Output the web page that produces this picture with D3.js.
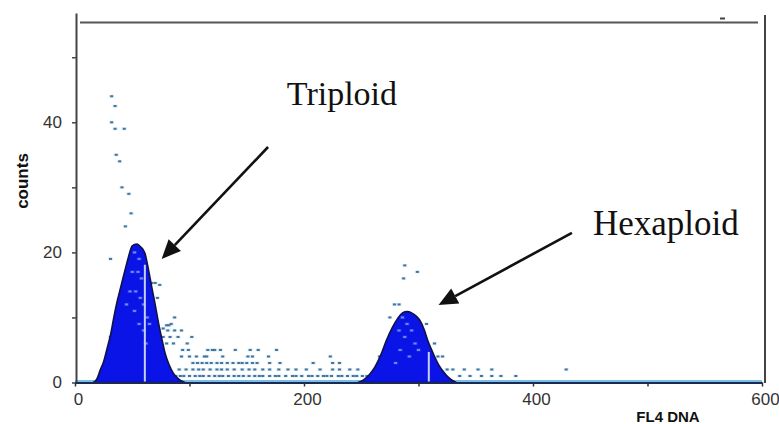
<!DOCTYPE html>
<html>
<head>
<meta charset="utf-8">
<script src="https://cdn.jsdelivr.net/npm/d3@7"></script>
<style>
  body { margin: 0; background: #fff; }
  svg { display: block; }
</style>
</head>
<body>
<svg id="chart" width="779" height="424"></svg>
<script>
// histogram outline of the two peaks, [channel, counts]
var triploidHist = [[16,0],[19,0.5],[22,1.9],[25,3.2],[28,5.2],[31,7.3],[34,10.1],[37,12.6],[40,14.7],[44,17.5],[47,19.5],[50,21],[54,21.3],[57,20.9],[61,19.9],[64,17.5],[67,14.7],[70,12],[73,9.1],[76,6.6],[79,4.3],[82,2.8],[86,1.4],[90,0.6],[96,0]];
var hexaploidHist = [[247,0],[252,0.4],[257,1.2],[262,2.4],[267,4.2],[272,6.5],[277,8.4],[282,9.9],[286,10.7],[290,10.9],[294,10.7],[298,10.2],[301,9.6],[305,8.1],[308,6.5],[311,5.2],[314,4],[318,2.6],[323,1.4],[328,0.5],[333,0]];

// gate markers (white lines) : channel, top count
var markers = [[61,18.1],[309,4.7]];

// raw points
var dotsTriploid = [[32,44],[35,42.5],[32,40],[35,39],[43,39],[36,35],[39,34],[41,30],[47,29],[49,26],[44,24],[31,19],
  [67,15.3],[70,15.3],[74,15],[65,13],[72,13],[70,10],[87,10],[80,8.8],[82,8.8],[84,9],
  [77,8.3],[81,8],[87,8],[93,8],[31,7],[77,7],[83,7],[90,7],[102,7],[80,6],[86,6],[98,6]];
var dotsDebris = [[94,5],[99,5],[116,5],[120,5],[122,5],[127,5],[140,5],[153,5],[160,5],[176,5],
  [93,4],[100,4],[106,4],[113,4],[115,4],[129,4],[151,4],[155,4],[169,4],[223,4],
  [103,3],[107,3],[111,3],[115,3],[119,3],[124,3],[128,3],[133,3],[138,3],[143,3],[146,3],[150,3],[155,3],[159,3],[170,3],[179,3],[208,3],[225,3],[231,3],
  [91,2],[97,2],[103,2],[108,2],[112,2],[118,2],[124,2],[128,2],[133,2],[139,2],[146,2],[152,2],[157,2],[164,2],[170,2],[178,2],[186,2],[193,2],[202,2],[214,2],[225,2],[231,2],[240,2],[247,2],
  [88,1],[92,1],[95,1],[100,1],[105,1],[109,1],[112,1],[117,1],[122,1],[126,1],[129,1],[134,1],[139,1],[143,1],[147,1],[152,1],[157,1],[161,1],[164,1],[170,1],[175,1],[178,1],[184,1],[190,1],[193,1],[198,1],[204,1],[207,1],[212,1],[217,1],[220,1],[224,1],[230,1],[233,1],[238,1],[243,1],[246,1],[251,1],[255,1]];
var dotsHexaploid = [[288,18],[299,17],[287,16],[279,12],[283,12],[275,10],[307,9],[314,6],[266,4],[272,4],[312,4],[317,4],[321,4],
  [325,2],[330,2],[340,2],[352,2],[364,2],[429,2],[336,1],[345,1],[355,1],[364,1],[372,1],[385,1]];
// lighter points seen through the filled peaks
var dotsInner = [[52,20],[56,19],[50,17],[55,17],[58,16],[48,14],[53,14],[57,13],[60,12],[45,12],[52,11],[63,10],[56,9],[65,9],[60,8],[62,6],
  [286,10],[290,9],[283,8],[294,8],[288,7],[297,6],[284,5],[292,4],[300,5],[280,3]];

var yTicks = [0,10,20,30,40,50];
var xTicks = [0,100,200,300,400,500,600];

// annotations: [label, textChannel, textCount, arrowFromCh, arrowFromCount, tipCh, tipCount]
var notes = [
  ["Triploid", 185, 42.7, 168.6, 36.2, 75.7, 19],
  ["Hexaploid", 452.4, 22.7, 434, 23, 317.5, 11.9]
];

var svg = d3.select("#chart");
var x = d3.scaleLinear().domain([0, 600]).range([75, 762]);
var y = d3.scaleLinear().domain([0, 56.8]).range([382.5, 13]);

// frame lines
svg.append("line").attr("x1", 80).attr("x2", 758).attr("y1", 22.5).attr("y2", 22.5)
  .attr("stroke", "#555").attr("stroke-width", 2);
svg.append("line").attr("x1", 765).attr("x2", 765).attr("y1", 15).attr("y2", 383)
  .attr("stroke", "#444").attr("stroke-width", 2);
svg.append("rect").attr("x", 720).attr("y", 17.5).attr("width", 5).attr("height", 2).attr("fill", "#444");

// zero line of histogram (light blue)
svg.append("line").attr("x1", x(0)).attr("x2", x(600)).attr("y1", y(0) - 1.5).attr("y2", y(0) - 1.5)
  .attr("stroke", "#4aa8e0").attr("stroke-width", 1.5);

function drawDots(data, core, halo) {
  var g = svg.append("g");
  g.selectAll("rect.h").data(data).enter().append("rect")
    .attr("x", function (d) { return x(d[0]) - 2.5 })
    .attr("y", function (d) { return y(d[1]) - 1.5 })
    .attr("width", 5).attr("height", 3).attr("fill", halo).attr("opacity", 0.45);
  g.selectAll("rect.c").data(data).enter().append("rect")
    .attr("x", function (d) { return x(d[0]) - 1.5 })
    .attr("y", function (d) { return y(d[1]) - 1 })
    .attr("width", 3).attr("height", 2).attr("fill", core);
}
drawDots(dotsTriploid, "#46729c", "#a6d6ee");
drawDots(dotsDebris, "#46729c", "#a6d6ee");
drawDots(dotsHexaploid, "#46729c", "#a6d6ee");

// peaks
var area = d3.area()
  .x(function (d) { return x(d[0]) })
  .y0(y(0))
  .y1(function (d) { return y(d[1]) })
  .curve(d3.curveMonotoneX);
[triploidHist, hexaploidHist].forEach(function (h) {
  svg.append("path").datum(h).attr("d", area)
    .attr("fill", "#0a14e6").attr("stroke", "#10124a").attr("stroke-width", 1.6);
});
drawDots(dotsInner, "#6d8cf2", "#3a4ef0");

svg.selectAll("line.marker").data(markers).enter().append("line")
  .attr("x1", function (d) { return x(d[0]) }).attr("x2", function (d) { return x(d[0]) })
  .attr("y1", function (d) { return y(d[1]) }).attr("y2", y(0) - 1)
  .attr("stroke", "#c8d0f2").attr("stroke-width", 2);

// axes
var yAxis = d3.axisLeft(y).tickValues(yTicks).tickSize(4).tickSizeOuter(0).tickPadding(10)
  .tickFormat(function (d) { return d % 20 == 0 ? d : "" });
var gy = svg.append("g").attr("transform", "translate(76,0)").call(yAxis);
var xAxis = d3.axisBottom(x).tickValues(xTicks).tickSize(4).tickSizeOuter(0).tickPadding(6.5)
  .tickFormat(function (d) { return d % 200 == 0 ? d : "" });
var gx = svg.append("g").attr("transform", "translate(0," + y(0) + ")").call(xAxis);

gy.select(".domain").attr("stroke", "#444").attr("stroke-width", 2);
gy.selectAll(".tick line").attr("stroke", "#444").attr("stroke-width", 1.5);
gx.select(".domain").attr("stroke", "#1b2a55").attr("stroke-width", 2);
gx.selectAll(".tick line").attr("stroke", "#333").attr("stroke-width", 1.5);
svg.selectAll(".tick text").attr("font-family", "'Liberation Sans', Arial, sans-serif")
  .attr("font-size", 17).attr("fill", "#333");
gx.selectAll(".tick text").attr("dx", 3);

svg.append("text").attr("transform", "translate(28,181) rotate(-90)")
  .attr("text-anchor", "middle").attr("font-family", "'Liberation Sans', Arial, sans-serif")
  .attr("font-weight", "bold").attr("font-size", 17).attr("fill", "#111").text("counts");
svg.append("text").attr("x", 668).attr("y", 422)
  .attr("text-anchor", "middle").attr("font-family", "'Liberation Sans', Arial, sans-serif")
  .attr("font-weight", "bold").attr("font-size", 15).attr("fill", "#111").text("FL4 DNA");

// annotations
notes.forEach(function (n) {
  svg.append("text").attr("x", x(n[1])).attr("y", y(n[2]))
    .attr("font-family", "'Liberation Serif', 'Times New Roman', serif")
    .attr("font-size", n[0] == "Hexaploid" ? 35 : 34).attr("fill", "#111").text(n[0]);
  var x1 = x(n[3]), y1 = y(n[4]), x2 = x(n[5]), y2 = y(n[6]);
  var dx = x1 - x2, dy = y1 - y2, len = Math.sqrt(dx * dx + dy * dy);
  var ux = dx / len, uy = dy / len;
  var bx = x2 + ux * 19, by = y2 + uy * 19;
  svg.append("line").attr("x1", x1).attr("y1", y1).attr("x2", bx).attr("y2", by)
    .attr("stroke", "#111").attr("stroke-width", 2.6);
  svg.append("polygon")
    .attr("points", [[x2, y2], [bx - uy * 8.5, by + ux * 8.5], [bx + uy * 8.5, by - ux * 8.5]].join(" "))
    .attr("fill", "#111");
});
</script>
</body>
</html>
